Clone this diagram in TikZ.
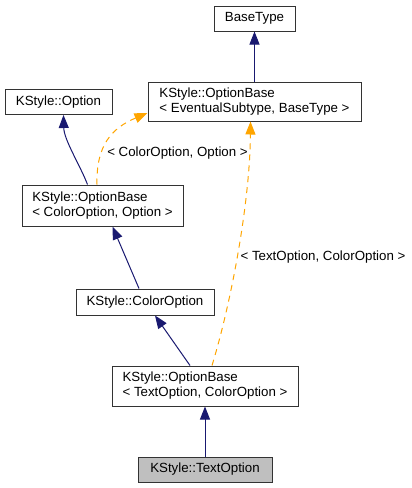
\documentclass[tikz,border=0pt]{standalone}
\usepackage{fontspec}
\setmainfont{Liberation Sans}
\usetikzlibrary{arrows.meta}
\definecolor{edgeblue}{RGB}{25,25,112}
\definecolor{edgeorange}{RGB}{255,165,0}
\definecolor{focusgray}{RGB}{191,191,191}
\tikzset{
  cls/.style={draw=black!80, line width=1pt, rectangle, inner sep=0pt, font=\fontsize{13.3}{15}\selectfont},
  clsone/.style={cls, align=center},
  clstwo/.style={cls, align=left},
  inh/.style={draw=edgeblue, line width=1pt, -{Triangle[length=13pt,width=10pt,fill=edgeblue]}},
  tmpl/.style={draw=edgeorange, line width=1pt, dash pattern=on 6pt off 5pt, -{Triangle[length=13pt,width=10pt,fill=edgeorange]}},
  lbl/.style={font=\fontsize{13.3}{15}\selectfont, inner sep=0pt}
}
\begin{document}
\begin{tikzpicture}[x=1pt,y=-1pt]
\useasboundingbox (0,0) rectangle (412,488);
\node[clsone, minimum width=81pt, minimum height=25pt] (bt) at (254.5,18.5) {BaseType};
\node[clstwo, minimum width=213pt, minimum height=39pt] (obes) at (254.5,101.5) {KStyle::OptionBase\\{<} EventualSubtype, BaseType {>}};
\node[clsone, minimum width=107pt, minimum height=25pt] (opt) at (58.5,102) {KStyle::Option};
\node[clstwo, minimum width=161pt, minimum height=41pt] (obco) at (102.5,205.5) {KStyle::OptionBase\\{<} ColorOption, Option {>}};
\node[clsone, minimum width=138pt, minimum height=26pt] (co) at (145,302) {KStyle::ColorOption};
\node[clstwo, minimum width=186pt, minimum height=40pt] (obto) at (205,386) {KStyle::OptionBase\\{<} TextOption, ColorOption {>}};
\node[clsone, fill=focusgray, minimum width=134pt, minimum height=25pt] (to) at (205,469.5) {KStyle::TextOption};

\draw[inh] (obes.north) -- (bt.south);
\draw[inh] ([xshift=-15pt]obco.north) .. controls (80,165) and (64,140) .. ([xshift=5pt]opt.south);
\draw[inh] ([xshift=-6pt]co.north) -- ([xshift=10pt]obco.south);
\draw[inh] ([xshift=-15pt]obto.north) -- ([xshift=10pt]co.south);
\draw[inh] (to.north) -- (obto.south);

\draw[tmpl] ([xshift=-5.5pt]obco.north) .. controls (96,145) and (112,128) .. ([yshift=-11.5pt]obes.west);
\node[lbl] (l1) at (177.5,153) {< ColorOption, Option >};
\draw[tmpl] ([xshift=7pt]obto.north) .. controls (232,300) and (250,200) .. ([xshift=-4pt]obes.south);
\node[lbl] (l2) at (323,257) {< TextOption, ColorOption >};
\end{tikzpicture}
\end{document}
